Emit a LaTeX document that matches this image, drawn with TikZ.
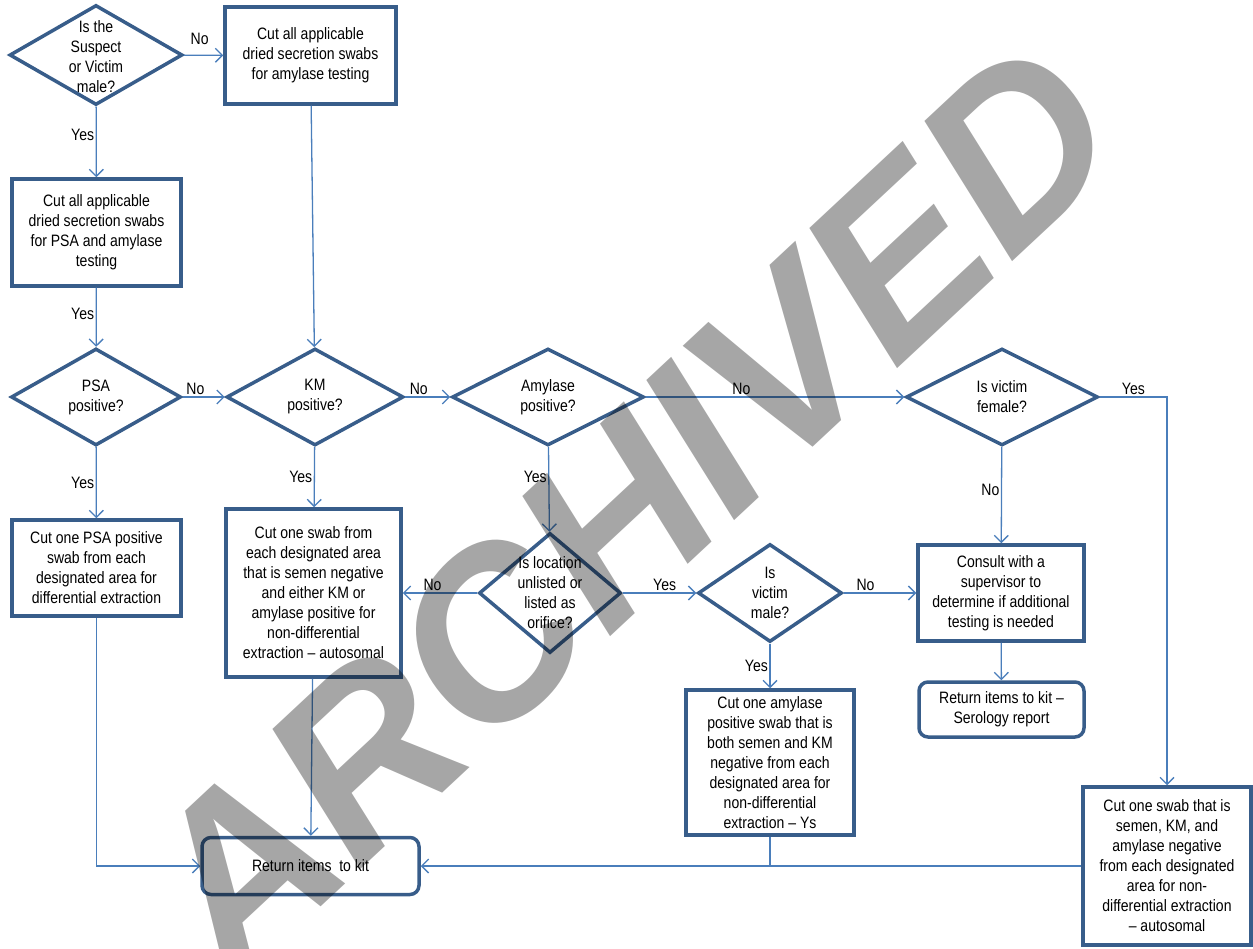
\documentclass[tikz,border=0pt]{standalone}
\usepackage{fontspec}
\setmainfont{Liberation Sans}[FakeStretch=0.85]
\newfontfamily\stampfont{Liberation Sans}
\usetikzlibrary{arrows.meta,shapes.geometric}
\definecolor{boxc}{HTML}{385D8A}
\definecolor{linkc}{HTML}{4A7EBB}
\definecolor{stampc}{HTML}{A6A6A6}

\begin{document}
\begin{tikzpicture}[x=1pt,y=-1pt,>={Straight Barb[length=7pt,width=14pt]},
  every node/.style={font=\fontsize{16.5}{20}\selectfont},
  box/.style={draw=boxc,line width=3.5pt,align=center,inner sep=0pt},
  rbox/.style={box,rounded corners=9pt},
  dec/.style={diamond,draw=boxc,line width=3.5pt,inner sep=0pt},
  dtxt/.style={align=center,inner sep=0pt},
  link/.style={draw=linkc,line width=1.3pt},
  lab/.style={inner sep=1.5pt},
  stamp/.style={text=stampc,inner sep=0pt,font=\stampfont\bfseries\itshape\fontsize{236}{236}\selectfont}]
\useasboundingbox (0,0) rectangle (1253,949);

% decisions
\node[dec,minimum width=173,minimum height=100] (q1) at (96,55) {};
\node[dtxt] (q1t) at (96,57) {Is the\\Suspect\\or Victim\\male?};
\node[dec,minimum width=170,minimum height=97] (qPSA) at (96,397) {};
\node[dtxt] (qPSAt) at (qPSA) {PSA\\positive?};
\node[dec,minimum width=177,minimum height=97] (qKM) at (315,397) {};
\node[dtxt] (qKMt) at (qKM) {KM\\positive?};
\node[dec,minimum width=192,minimum height=97] (qAmy) at (548,397) {};
\node[dtxt] (qAmyt) at (qAmy) {Amylase\\positive?};
\node[dec,minimum width=192,minimum height=97] (qFem) at (1002,397) {};
\node[dtxt] (qFemt) at (qFem) {Is victim\\female?};
\node[dec,minimum width=142,minimum height=120] (qLoc) at (550,593) {};
\node[dtxt] (qLoct) at (qLoc) {Is location\\unlisted or\\listed as\\orifice?};
\node[dec,minimum width=144,minimum height=98] (qMale) at (770,593) {};
\node[dtxt] (qMalet) at (qMale) {Is\\victim\\male?};

% actions
\node[box,minimum width=171,minimum height=97] (cutA) at (310.5,55.5) {Cut all applicable\\dried secretion swabs\\for amylase testing};
\node[box,minimum width=169,minimum height=107] (cutB) at (96.5,232.5) {Cut all applicable\\dried secretion swabs\\for PSA and amylase\\testing};
\node[box,minimum width=169,minimum height=96] (cutPSA) at (96.5,568) {Cut one PSA positive\\swab from each\\designated area for\\differential extraction};
\node[box,minimum width=175,minimum height=168] (cutKM) at (313.5,593) {Cut one swab from\\each designated area\\that is semen negative\\and either KM or\\amylase positive for\\non-differential\\extraction -- autosomal};
\node[box,minimum width=166,minimum height=96] (consult) at (1001,593) {Consult with a\\supervisor to\\determine if additional\\testing is needed};
\node[rbox,minimum width=165,minimum height=55] (sero) at (1001.5,709.5) {Return items to kit --\\Serology report};
\node[box,minimum width=168,minimum height=145] (cutYs) at (770,762.5) {Cut one amylase\\positive swab that is\\both semen and KM\\negative from each\\designated area for\\non-differential\\extraction -- Ys};
\node[box,minimum width=168,minimum height=158] (cutLast) at (1167,866) {Cut one swab that is\\semen, KM, and\\amylase negative\\from each designated\\area for non-\\differential extraction\\-- autosomal};
\node[rbox,minimum width=217,minimum height=57] (ret) at (310.5,866) {Return items~ to kit};

% connectors
\draw[link,->] (q1) -- node[lab,above,pos=0.4,yshift=8pt] (n1) {No} (cutA);
\draw[link,->] (q1) -- node[lab,left,pos=0.4] (y1) {Yes} (cutB);
\draw[link,->] (cutB) -- node[lab,left,pos=0.45] (y2) {Yes} (qPSA);
\draw[link,->] (qPSA) -- node[lab,above,pos=0.3] (n2) {No} (qKM);
\draw[link,->] (cutA) -- (qKM);
\draw[link,->] (qKM) -- node[lab,above,pos=0.3] (n3) {No} (qAmy);
\draw[link,->] (qAmy) -- node[lab,above,pos=0.37] (n4) {No} (qFem);
\draw[link,->] (qFem) -| node[lab,above,pos=0.25] (y3) {Yes} (cutLast);
\draw[link,->] (qFem) -- node[lab,left,pos=0.45] (n5) {No} (consult);
\draw[link,->] (consult) -- (sero);
\draw[link,->] (qPSA) -- node[lab,left] (y4) {Yes} (cutPSA);
\draw[link,->] (qKM) -- node[lab,left] (y5) {Yes} (cutKM);
\draw[link,->] (qAmy) -- node[lab,left,pos=0.35] (y6) {Yes} (qLoc);
\draw[link,->] (qLoc) -- node[lab,above,pos=0.6] (n6) {No} (cutKM);
\draw[link,->] (qLoc) -- node[lab,above,pos=0.57] (y7) {Yes} (qMale);
\draw[link,->] (qMale) -- node[lab,above,pos=0.3] (n7) {No} (consult);
\draw[link,->] (qMale) -- node[lab,left] (y8) {Yes} (cutYs);
\draw[link,->] (cutPSA) |- (ret);
\draw[link,->] (cutKM) -- (ret);
\draw[link,->] (cutLast) -- (ret);
\draw[link] (cutYs) -- (cutYs |- ret);

% watermark
\begin{scope}[blend mode=multiply]
\node[stamp,rotate=43,anchor=base] (archived) at (684,568) {ARCHIVED};
\end{scope}
\end{tikzpicture}
\end{document}
